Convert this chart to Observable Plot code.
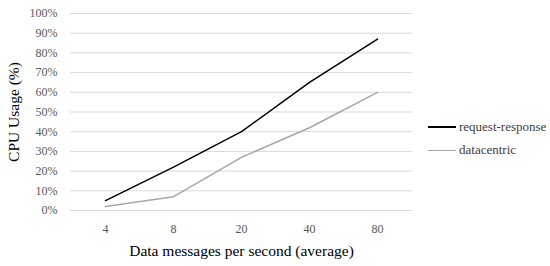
<!DOCTYPE html>
<html><head><meta charset="utf-8">
<script src="https://cdn.jsdelivr.net/npm/d3@7"></script>
<script src="https://cdn.jsdelivr.net/npm/@observablehq/plot@0.6"></script>
<style>
body{margin:0;background:#fff;}
#wrap{position:relative;width:550px;height:266px;font-family:"Liberation Serif",serif;}
.leg{position:absolute;left:428px;font-size:13px;color:#404040;display:flex;align-items:center;}
.leg span.sw{display:inline-block;width:28px;margin-right:3px;}
</style></head>
<body><div id="wrap"></div>
<script>
const categories = ["4", "8", "20", "40", "80"];
const seriesNames = ["request-response", "datacentric"];
const requestResponse = [5, 22, 40, 65, 87];
const datacentric = [2, 7, 27, 42, 60];
const yTicks = [0,10,20,30,40,50,60,70,80,90,100];
const colors = ["#000000", "#a6a6a6"];

const data = [];
categories.forEach((c,i)=>{
  data.push({x:c, y:requestResponse[i], s:seriesNames[0]});
  data.push({x:c, y:datacentric[i], s:seriesNames[1]});
});

const chart = Plot.plot({
  width:550, height:266,
  marginLeft:70, marginRight:138, marginTop:13, marginBottom:56,
  style:{fontFamily:"Liberation Serif, serif", background:"#fff"},
  x:{type:"band", domain:categories, padding:0},
  y:{domain:[0,100]},
  color:{domain:seriesNames, range:colors},
  marks:[
    Plot.gridY(yTicks, {stroke:"#d9d9d9", strokeOpacity:1, strokeWidth:1}),
    Plot.axisY(yTicks, {tickSize:0, tickPadding:13, tickFormat:d=>d+"%", fontSize:12, fill:"#595959", label:null}),
    Plot.axisX({tickSize:0, tickPadding:14, fontSize:12, fill:"#595959", label:null}),
    Plot.line(data, {x:"x", y:"y", z:"s", stroke:"s", strokeWidth:1.5}),
    Plot.text(["CPU Usage (%)"], {frameAnchor:"left", textAnchor:"middle", rotate:-90, dx:-56, dy:0, fontSize:15.5, fill:"#000"}),
    Plot.text(["Data messages per second (average)"], {frameAnchor:"bottom", textAnchor:"middle", dy:45, fontSize:15.5, fill:"#000"})
  ]
});
const wrap = document.getElementById("wrap");
wrap.appendChild(chart);
seriesNames.forEach((n,i)=>{
  const d = document.createElement("div");
  d.className="leg";
  d.style.top = (119 + i*23) + "px";
  d.innerHTML = `<span class="sw" style="border-top:${i===0?2:1.5}px solid ${colors[i]}"></span>${n}`;
  wrap.appendChild(d);
});
</script></body></html>
